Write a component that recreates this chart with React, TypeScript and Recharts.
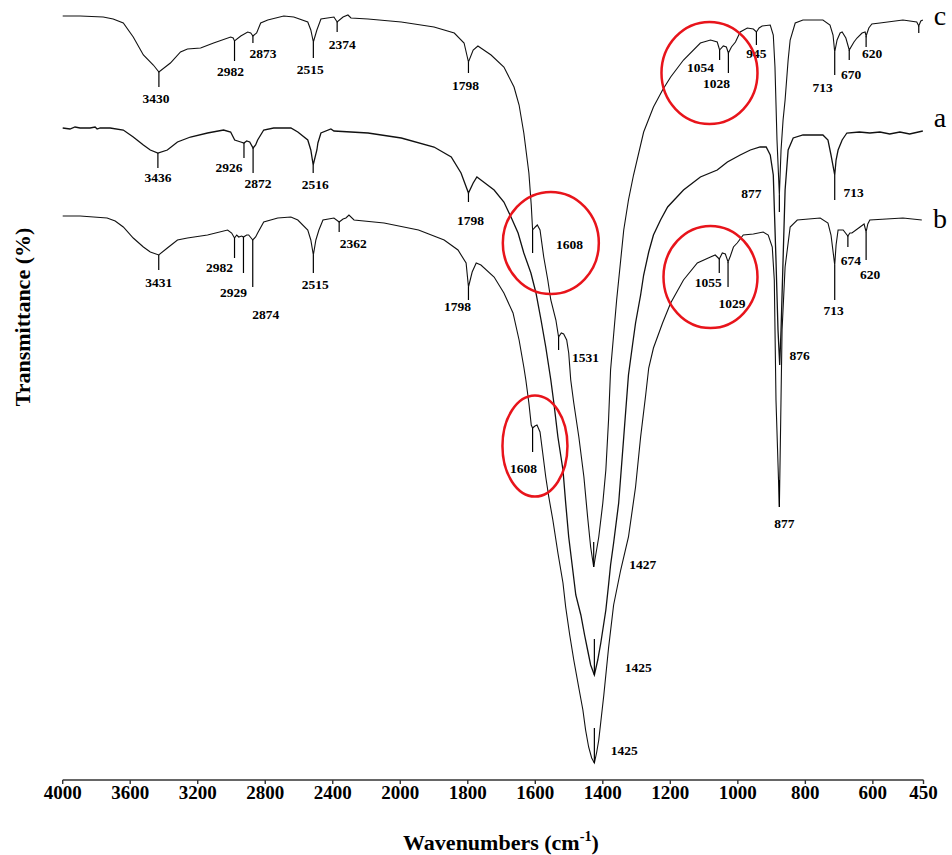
import { LineChart, Line, XAxis, YAxis, ReferenceLine, ReferenceDot } from 'recharts';

const FONT = '"Liberation Serif", "Times New Roman", Times, serif';

// the wavenumber axis changes scale at 2000 cm-1: 400 per division above, 200 below
const toU = (wn: number) => (wn >= 2000 ? (4000 - wn) / 400 : 5 + (2000 - wn) / 200);
const fromU = (u: number) => Math.round(u <= 5 ? 4000 - u * 400 : 2000 - (u - 5) * 200);

const xTickLabels = [4000, 3600, 3200, 2800, 2400, 2000, 1800, 1600, 1400, 1200, 1000, 800, 600, 450];

// [wavenumber cm-1, transmittance (stacked, arbitrary offset)]
const curveC: [number, number][] = [
  [4000, 152.8], [3897, 152.8], [3760, 152.6], [3701, 152.2], [3641, 151.4], [3582, 148.6], [3522, 145],
  [3463, 143], [3430, 141.6], [3362, 143.4], [3302, 145.6], [3261, 146.2], [3183, 146.4], [3106, 147.4],
  [3005, 148.6], [2990, 148.4], [2982, 147.8], [2945, 148.8], [2904, 149.6], [2886, 149.4], [2873, 148.8],
  [2851, 149.4], [2827, 151.4], [2785, 152], [2690, 152.8], [2631, 152.6], [2548, 151.6], [2530, 150],
  [2515, 147.6], [2494, 150], [2470, 152.2], [2393, 152.6], [2374, 151.6], [2339, 152.6], [2310, 153],
  [2292, 152.4], [2191, 152.2], [1997, 151.6], [1900, 150.6], [1840, 149.4], [1811, 147.4], [1798, 143.6],
  [1784, 146], [1770, 146.8], [1731, 145], [1693, 142.6], [1663, 138.6], [1648, 135], [1634, 129.4],
  [1619, 121.4], [1612, 115], [1608, 110], [1600, 110.6], [1594, 111], [1586, 110], [1575, 104.6],
  [1563, 100], [1554, 96], [1539, 92], [1531, 88.6], [1523, 89.4], [1516, 89.2], [1507, 88], [1501, 85.4],
  [1495, 80], [1486, 75.4], [1471, 68.6], [1456, 60.6], [1445, 52.6], [1436, 46.6], [1427, 42.6],
  [1412, 48.6], [1400, 55.4], [1391, 62], [1383, 72], [1377, 82], [1368, 89], [1359, 96], [1347, 104],
  [1338, 110], [1324, 116], [1309, 121], [1279, 129.6], [1250, 134.6], [1223, 138], [1199, 140.6],
  [1161, 144], [1111, 147.4], [1081, 148], [1061, 147.6], [1054, 146], [1043, 146.8], [1034, 146.6],
  [1028, 145.4], [1019, 146.6], [1007, 147.6], [993, 149.6], [972, 150.4], [954, 150.2], [945, 149.6],
  [937, 150.4], [928, 150.8], [904, 151], [895, 149], [890, 142.6], [884, 128], [877, 117], [872, 126],
  [866, 132], [860, 136], [851, 144], [845, 148], [830, 151.4], [807, 152], [748, 152], [727, 151],
  [718, 149], [713, 145.6], [706, 148], [697, 149.4], [691, 149.6], [680, 148.4], [670, 146], [656, 147.6],
  [647, 148.4], [632, 149.4], [623, 149.6], [620, 148.8], [612, 150.4], [603, 151.2], [579, 151.4],
  [511, 152], [470, 151.6], [464, 150.8], [458, 151.8], [452, 152],
];

const curveA: [number, number][] = [
  [4000, 130.4], [3957, 130.2], [3927, 130.6], [3897, 130.4], [3838, 130.4], [3808, 130.6], [3796, 130.2],
  [3778, 130.4], [3719, 130.4], [3641, 130], [3582, 128.6], [3522, 127], [3481, 126], [3436, 125.4],
  [3380, 126], [3320, 127.6], [3243, 128.6], [3142, 129.4], [3047, 130], [3005, 129.6], [2981, 128],
  [2945, 127.6], [2926, 127.4], [2910, 127.8], [2892, 127.6], [2872, 126.4], [2857, 127], [2845, 128],
  [2809, 130], [2750, 130.4], [2648, 130.4], [2607, 129.6], [2548, 128], [2530, 126], [2516, 123],
  [2494, 126], [2488, 127.4], [2470, 129.4], [2411, 130.2], [2393, 129.8], [2191, 129.4], [1997, 128.4],
  [1900, 126.6], [1849, 124.6], [1820, 121.4], [1798, 117.4], [1784, 119.4], [1773, 120.6], [1761, 120],
  [1722, 118], [1693, 115.6], [1672, 112.6], [1651, 109.4], [1634, 105.4], [1613, 101.4], [1598, 97.4],
  [1583, 92], [1569, 86.6], [1554, 80], [1545, 75.4], [1533, 68.6], [1518, 62], [1510, 55.4], [1501, 48.6],
  [1489, 42], [1480, 37], [1465, 33], [1454, 29], [1445, 26], [1436, 23], [1425, 21], [1415, 24],
  [1406, 27.4], [1391, 34], [1383, 39], [1377, 43], [1368, 47.4], [1353, 55.4], [1338, 68.6], [1324, 81],
  [1312, 87], [1303, 91.4], [1288, 97], [1279, 101], [1264, 105.6], [1250, 109], [1229, 112], [1208, 114.6],
  [1161, 118], [1111, 120.6], [1061, 122], [1031, 123.6], [993, 125], [963, 126], [934, 126.6],
  [916, 126.6], [904, 125], [895, 121], [887, 104], [881, 90], [876, 83], [872, 90], [866, 104], [860, 118],
  [851, 126], [836, 128.4], [807, 129], [748, 129], [733, 128], [724, 125], [713, 121], [709, 124],
  [703, 126], [691, 128], [677, 129.4], [640, 129.6], [609, 129.4], [579, 129.6], [550, 129.2],
  [520, 129.6], [491, 129.2], [452, 129.8],
];

const curveB: [number, number][] = [
  [4000, 112.8], [3897, 112.8], [3737, 112.4], [3689, 111.8], [3641, 110.6], [3582, 108.4], [3522, 106.6],
  [3481, 105.6], [3431, 105], [3380, 106.4], [3320, 108], [3261, 108.4], [3142, 109], [3023, 110],
  [2999, 109.4], [2982, 108.4], [2969, 109], [2957, 108.6], [2940, 108.8], [2929, 108.6], [2910, 109],
  [2898, 109], [2874, 108], [2857, 108.6], [2845, 109.4], [2809, 111.6], [2726, 112.4], [2648, 112.6],
  [2607, 112], [2548, 110], [2530, 108], [2515, 105], [2500, 108], [2482, 110], [2458, 112], [2393, 112.4],
  [2362, 111.6], [2339, 112.2], [2322, 112.4], [2304, 113], [2274, 112], [2096, 111.4], [1946, 110],
  [1870, 108], [1829, 106], [1805, 103.4], [1798, 98.6], [1787, 101.6], [1775, 103.4], [1761, 103],
  [1722, 100.6], [1693, 97.4], [1666, 93.4], [1648, 88], [1634, 82.6], [1628, 80], [1619, 75.4],
  [1612, 71], [1608, 70.4], [1601, 70.8], [1595, 71], [1586, 69.6], [1578, 65.4], [1569, 60.6],
  [1560, 56.6], [1548, 52], [1533, 45.4], [1518, 39.4], [1510, 34.6], [1498, 29], [1486, 24], [1471, 18.4],
  [1459, 14], [1451, 10], [1442, 6.6], [1433, 4.4], [1425, 3.4], [1418, 5.6], [1412, 8], [1406, 11.6],
  [1397, 17], [1383, 26.4], [1368, 35], [1347, 42], [1324, 48.6], [1303, 58.6], [1288, 68.6], [1273, 77],
  [1264, 82.4], [1250, 86.4], [1223, 91.4], [1199, 95.4], [1161, 100], [1120, 103.4], [1081, 104.6],
  [1067, 105], [1055, 104.2], [1046, 105.4], [1037, 105.2], [1029, 103.6], [1022, 104.8], [1013, 106.6],
  [1002, 107.4], [984, 109], [954, 109.2], [925, 109.6], [910, 109], [898, 106.6], [892, 100], [887, 76],
  [877, 54.6], [873, 72], [869, 90], [860, 102.6], [845, 110.6], [824, 112], [756, 112.4], [733, 111.4],
  [724, 109], [713, 103], [709, 107], [703, 110], [688, 110], [674, 108.8], [668, 109.4], [662, 109.4],
  [638, 110.6], [626, 111.2], [620, 109.6], [615, 111.2], [609, 112], [511, 112.4], [455, 112],
];

// peak marks: [label, wavenumber, tick top, tick bottom, label dx, label dy]
type Peak = [string, number, number, number, number, number];

const peaksC: Peak[] = [
  ['3430', 3430, 141.6, 138.6, -3, 11], ['2982', 2982, 147.8, 143.8, -4, 10],
  ['2873', 2873, 148.8, 147.4, 10, 10], ['2515', 2515, 147.6, 144.4, -3, 11],
  ['2374', 2374, 151.6, 149.6, 5, 12], ['1798', 1798, 143.6, 141.4, -3, 12],
  ['1608', 1608, 110, 105.4, 37, -9], ['1531', 1531, 88.6, 86, 27, 7],
  ['1427', 1427, 47.6, 42.6, 49, -3], ['1054', 1054, 146, 144, -19, 7],
  ['1028', 1028, 145.4, 141.4, -12, 10], ['945', 945, 149.6, 147, 0, 8],
  ['877', 877, 117, 113.6, -28, -19], ['713', 713, 145.6, 141, -12, 12],
  ['670', 670, 146, 144, 2, 14], ['620', 620, 148.8, 146.6, 6, 6], ['', 464, 150.8, 149.4, 0, 0],
];

const peaksA: Peak[] = [
  ['3436', 3436, 125.4, 122.4, 0, 9], ['2926', 2926, 127.4, 124.4, -15, 9],
  ['2872', 2872, 126.4, 121.4, 5, 10], ['2516', 2516, 123, 121.4, 2, 11],
  ['1798', 1798, 117.4, 115.6, 2, 18], ['1425', 1425, 28.2, 21, 44, -8],
  ['876', 876, 83, 83, 20, -10], ['713', 713, 121, 116, 19, -8],
];

const peaksB: Peak[] = [
  ['3431', 3431, 105, 102, 0, 12], ['2982', 2982, 108.4, 104.4, -15, 9],
  ['2929', 2929, 108.6, 101.4, -10, 19], ['2874', 2874, 108, 98.6, 13, 27],
  ['2515', 2515, 105, 101.4, 2, 11], ['2362', 2362, 111.6, 109.6, 14, 11],
  ['1798', 1798, 98.6, 96, -11, 6], ['1608', 1608, 70.4, 65.6, -9, 16],
  ['1425', 1425, 10.4, 3.4, 30, -13], ['1055', 1055, 104.2, 101.4, -11, 9],
  ['1029', 1029, 103.6, 98.6, 4, 16], ['877', 877, 60, 54.6, 5, 16],
  ['713', 713, 103, 96, -1, 10], ['674', 674, 108.8, 106.6, 3, 13], ['620', 620, 109.6, 104, 4, 14],
];

// red highlight rings: [wavenumber, transmittance, rx, ry]
const highlights: [number, number, number, number][] = [
  [1084, 141.4, 48, 51],
  [1554, 107.4, 48, 51],
  [1081, 100.6, 47, 51],
  [1601, 66.8, 32.5, 50.5],
];

const seriesNames: [string, number][] = [['c', 151], ['a', 130.6], ['b', 110.4]];

const toRows = (pts: [number, number][]) => pts.map(([wn, t]) => ({ u: toU(wn), t }));

function renderPeaks(peaks: Peak[], key: string) {
  return peaks.flatMap(([label, wn, top, bottom, dx, dy], i) => {
    const out = [];
    if (top !== bottom) {
      out.push(
        <ReferenceLine
          key={`${key}-l${i}`}
          segment={[{ x: toU(wn), y: top }, { x: toU(wn), y: bottom }]}
          stroke="#000"
          strokeWidth={1.2}
          ifOverflow="visible"
        />
      );
    }
    if (label) {
      out.push(
        <ReferenceDot
          key={`${key}-t${i}`}
          x={toU(wn)}
          y={bottom}
          r={0}
          ifOverflow="visible"
          shape={(p: any) => (
            <text
              x={p.cx + dx}
              y={p.cy + dy}
              textAnchor="middle"
              dominantBaseline="central"
              fontFamily={FONT}
              fontWeight="bold"
              fontSize={13.5}
              fill="#000"
            >
              {label}
            </text>
          )}
        />
      );
    }
    return out;
  });
}

export default function App() {
  return (
    <div style={{ position: 'absolute', left: 0, top: 0, width: 952, height: 855, background: '#fff' }}>
      <LineChart width={952} height={855} margin={{ top: 15, right: 28.5, bottom: 45, left: 62.7 }}>
        <XAxis
          type="number"
          dataKey="u"
          domain={[0, 12.75]}
          ticks={xTickLabels.map(toU)}
          interval={0}
          tickFormatter={(u: number) => String(fromU(u))}
          height={30}
          tickSize={4}
          axisLine={{ stroke: '#333', strokeWidth: 1.6 }}
          tickLine={{ stroke: '#333', strokeWidth: 1.4 }}
          tick={{ fill: '#000', fontSize: 19, fontWeight: 'bold', fontFamily: FONT }}
        />
        <YAxis
          type="number"
          domain={[0, 153]}
          width={0}
          tick={false}
          tickLine={false}
          axisLine={{ stroke: '#333', strokeWidth: 1.8 }}
        />
        <Line data={toRows(curveC)} dataKey="t" type="linear" stroke="#111" strokeWidth={1.1} dot={false} isAnimationActive={false} />
        <Line data={toRows(curveA)} dataKey="t" type="linear" stroke="#111" strokeWidth={1.3} dot={false} isAnimationActive={false} />
        <Line data={toRows(curveB)} dataKey="t" type="linear" stroke="#111" strokeWidth={1.1} dot={false} isAnimationActive={false} />
        {renderPeaks(peaksC, 'c')}
        {renderPeaks(peaksA, 'a')}
        {renderPeaks(peaksB, 'b')}
        {highlights.map(([wn, t, rx, ry], i) => (
          <ReferenceDot
            key={`h${i}`}
            x={toU(wn)}
            y={t}
            r={0}
            ifOverflow="visible"
            shape={(p: any) => (
              <ellipse cx={p.cx} cy={p.cy} rx={rx} ry={ry} fill="none" stroke="#e8141b" strokeWidth={2.5} />
            )}
          />
        ))}
        {seriesNames.map(([name, t]) => (
          <ReferenceDot
            key={name}
            x={toU(450)}
            y={t}
            r={0}
            ifOverflow="visible"
            shape={(p: any) => (
              <text x={p.cx + 16.5} y={p.cy} textAnchor="middle" fontFamily={FONT} fontSize={28} fill="#000">
                {name}
              </text>
            )}
          />
        ))}
      </LineChart>
      <div
        style={{
          position: 'absolute',
          left: 501,
          top: 843,
          transform: 'translate(-50%, -50%)',
          fontFamily: FONT,
          fontWeight: 'bold',
          fontSize: 22,
          lineHeight: 1,
          whiteSpace: 'nowrap',
        }}
      >
        Wavenumbers (cm<sup style={{ fontSize: '0.65em', verticalAlign: '0.6em', lineHeight: 0 }}>-1</sup>)
      </div>
      <div
        style={{
          position: 'absolute',
          left: 23,
          top: 317,
          transform: 'translate(-50%, -50%) rotate(-90deg)',
          fontFamily: FONT,
          fontWeight: 'bold',
          fontSize: 22,
          lineHeight: 1,
          whiteSpace: 'nowrap',
        }}
      >
        Transmittance (%)
      </div>
    </div>
  );
}
